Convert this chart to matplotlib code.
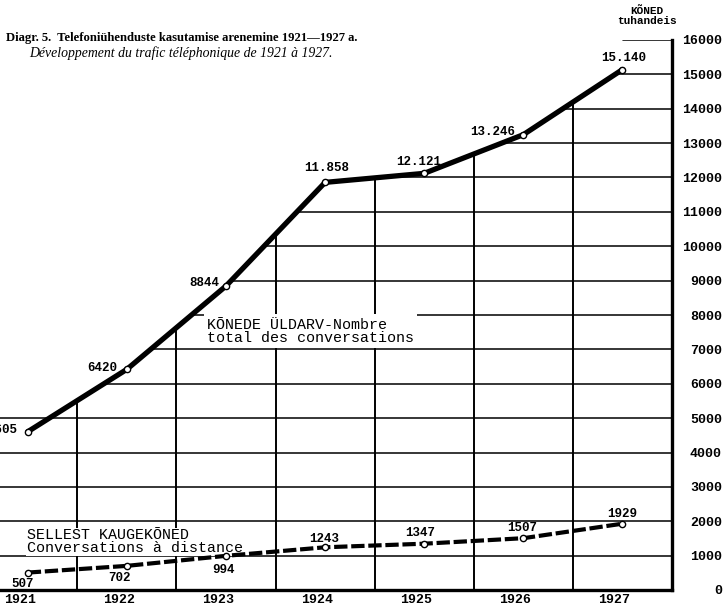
"""
Diagr. 5 — telephone traffic 1921-1927, redrawn with matplotlib.
"""

import matplotlib
matplotlib.use("Agg")
import matplotlib.pyplot as plt
from matplotlib.patches import Polygon
import numpy as np

# ---------------------------------------------------------------------------
# Data (thousands of calls)
# ---------------------------------------------------------------------------
years = ["1921", "1922", "1923", "1924", "1925", "1926", "1927"]
total_calls = [4605, 6420, 8844, 11858, 12121, 13246, 15140]
total_labels = ["4605", "6420", "8844", "11.858", "12.121", "13.246", "15.140"]
long_distance = [507, 702, 994, 1243, 1347, 1507, 1929]
long_labels = ["507", "702", "994", "1243", "1347", "1507", "1929"]
y_ticks = list(range(0, 16001, 1000))

MONO = "Liberation Mono"
SERIF = "Liberation Serif"

W, H = 726, 612
fig = plt.figure(figsize=(W / 100, H / 100), dpi=100)
fig.patch.set_facecolor("white")
ax = fig.add_axes([0, 22 / H, 672 / W, 550 / H])
ax.set_facecolor("white")

x = np.arange(len(years))
ax.set_xlim(-0.28, len(years) - 0.5)
ax.set_ylim(0, y_ticks[-1])

# grid only below the total-calls curve
x_cross = np.interp(5050, total_calls[:2], x[:2])
verts = [(-0.5, 0), (-0.5, 5050), (x_cross, 5050)]
verts += list(zip(x[1:], total_calls[1:]))
verts += [(x[-1], y_ticks[-1]), (len(years) - 0.5, y_ticks[-1]), (len(years) - 0.5, 0)]
clip = Polygon(verts, closed=True, transform=ax.transData,
               facecolor="none", edgecolor="none")

for yv in y_ticks[1:]:
    ln = ax.axhline(yv, color="black", lw=1.1, zorder=1)
    ln.set_clip_path(clip)
for xv in x[:-1] + 0.5:
    ln = ax.axvline(xv, color="black", lw=1.4, zorder=1)
    ln.set_clip_path(clip)

# series
ax.plot(x, total_calls, color="black", lw=3.8, zorder=3, solid_capstyle="round")
ax.plot(x, long_distance, color="black", lw=3.0, zorder=3,
        linestyle=(0, (3.2, 0.9)))
for series in (total_calls, long_distance):
    ax.plot(x, series, "o", ms=4.5, mfc="white", mec="black", mew=1.0, zorder=4)

# value labels (offsets in points)
lab_kw = dict(textcoords="offset points", fontsize=9, fontfamily=MONO,
              fontweight="bold", zorder=5)
total_off = [(-7, 1, "right"), (-7, 1, "right"), (-5, 2, "right"),
             (1, 10, "center"), (-4, 8, "center"), (-6, 2, "right"),
             (1, 8, "center")]
for xi, v, s, (dx, dy, ha) in zip(x, total_calls, total_labels, total_off):
    ax.annotate(s, (xi, v), xytext=(dx, dy), ha=ha, va="center", **lab_kw)

long_off = [(-4, -8), (-5, -9), (-2, -10), (-1, 6), (-3, 8), (-1, 7), (0, 7)]
for xi, v, s, (dx, dy) in zip(x, long_distance, long_labels, long_off):
    ax.annotate(s, (xi, v), xytext=(dx, dy), ha="center", va="center", **lab_kw)

# series captions on white boxes
ax.text(0.308, 0.495, "KÕNEDE ÜLDARV-Nombre\ntotal des conversations",
        transform=ax.transAxes, ha="left", va="top", fontsize=10.8,
        fontfamily=MONO, linespacing=0.92, zorder=2,
        bbox=dict(facecolor="white", edgecolor="none", pad=2.5))
ax.text(0.040, 0.112, "SELLEST KAUGEKÕNED\nConversations à distance",
        transform=ax.transAxes, ha="left", va="top", fontsize=10.8,
        fontfamily=MONO, linespacing=0.88, zorder=2,
        bbox=dict(facecolor="white", edgecolor="none", pad=0.3))

# axes styling
for side in ("top", "left"):
    ax.spines[side].set_visible(False)
ax.spines["right"].set_linewidth(2.4)
ax.spines["bottom"].set_linewidth(2.4)
ax.yaxis.tick_right()
ax.set_yticks(y_ticks)
ax.set_yticklabels([str(t) for t in y_ticks], fontfamily=MONO,
                   fontweight="bold", fontsize=9.5, ha="right")
ax.tick_params(axis="y", length=0, pad=36)
ax.set_xticks(x - 0.08)
ax.set_xticklabels(years, fontfamily=MONO, fontweight="bold", fontsize=9.5)
ax.tick_params(axis="x", length=0, pad=3)

# header texts
fig.text(647 / W, 1 - 11 / H, "KÕNED", ha="center", va="center",
         fontfamily=MONO, fontweight="bold", fontsize=8)
fig.text(647 / W, 1 - 21 / H, "tuhandeis", ha="center", va="center",
         fontfamily=MONO, fontweight="bold", fontsize=8)
fig.text(6 / W, 1 - 38 / H,
         "Diagr. 5.  Telefoniühenduste kasutamise arenemine 1921—1927 a.",
         ha="left", va="center", fontfamily=SERIF, fontweight="bold",
         fontsize=9.1)
fig.text(29 / W, 1 - 53 / H,
         "Développement du trafic téléphonique de 1921 à 1927.",
         ha="left", va="center", fontfamily=SERIF, style="italic",
         fontsize=9.9)

fig.savefig("out.png", dpi=100, facecolor="white")
plt.close(fig)
